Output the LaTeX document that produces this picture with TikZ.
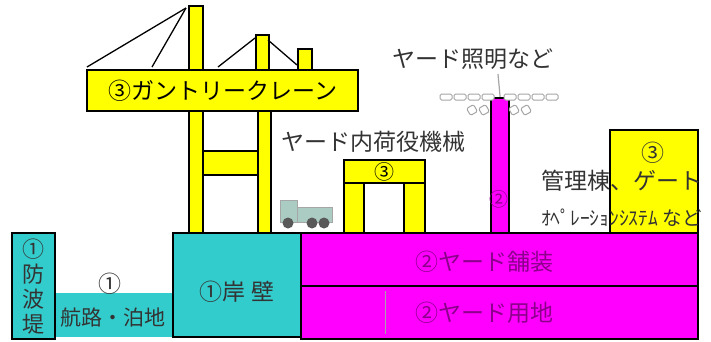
\documentclass[tikz,border=0pt]{standalone}
\usepackage{fontspec}
\setmainfont{Noto Sans CJK JP}
\usetikzlibrary{positioning}

\definecolor{seacyan}{RGB}{51,204,204}
\definecolor{yardpink}{RGB}{255,0,255}
\definecolor{craneyellow}{RGB}{255,255,0}
\definecolor{yardtext}{RGB}{140,0,140}
\definecolor{trucktint}{RGB}{170,204,194}
\definecolor{lampgray}{RGB}{165,165,165}

\begin{document}
\begin{tikzpicture}[x=1pt, y=-1pt, font=\fontsize{23}{26}\selectfont, every node/.style={align=center}]

% styles
\tikzset{
  part/.style={rectangle, draw=black, line width=2.2pt, inner sep=0pt, anchor=north west},
  sea/.style={part, fill=seacyan},
  yard/.style={part, fill=yardpink},
  equip/.style={part, fill=craneyellow},
  caption/.style={inner sep=0pt, text=black!80},
  yardcaption/.style={inner sep=0pt, text=yardtext},
  cable/.style={line width=1.3pt, draw=black},
  truckpart/.style={fill=trucktint, draw=gray!70, line width=0.6pt},
  lamp/.style={draw=lampgray, line width=1pt, fill=white, rounded corners=1.5pt}
}

\useasboundingbox (0,0) rectangle (711,341);

% crane masts behind the boom
\node[equip, minimum width=14, minimum height=64] (mastA) at (188,5) {};
\node[equip, minimum width=13, minimum height=35] (mastB) at (255,34) {};
\node[equip, minimum width=14, minimum height=21] (mastC) at (297,48) {};

% boom with its label
\node[equip, minimum width=271, minimum height=41] (boom) at (86,69) {③ガントリークレーン};

% tie points of the stays
\coordinate (topA) at (186,8);
\coordinate (topB) at (255,38);
\coordinate (topC) at (268,40);
\coordinate (tieA) at (87,67);
\coordinate (tieB) at (152,67);
\coordinate (tieC) at (218,67);
\coordinate (tieD) at (297,65);

\draw[cable] (topA) -- (tieA);
\draw[cable] (topA) -- (tieB);
\draw[cable] (topB) -- (tieC);
\draw[cable] (topC) -- (tieD);

% crane legs and portal beam
\node[equip, minimum width=14, minimum height=122] (legL) at (188,110) {};
\node[equip, minimum width=13, minimum height=122] (legR) at (257,110) {};
\node[equip, minimum width=55, minimum height=24] (portal) at (202,150) {};

% truck on the yard
\filldraw[truckpart] (280,200) rectangle (297,222);
\filldraw[truckpart] (297,207) rectangle (332,222);
\foreach \wx in {288,312,324}
  \fill[black!65] (\wx,223) circle (5.5);

% straddle carrier
\node[equip, minimum width=81, minimum height=23] (carrier) at (343,159) {\fontsize{20}{22}\selectfont ③};
\node[equip, minimum width=20, minimum height=50] (carrierL) at (343,182) {};
\node[equip, minimum width=21, minimum height=50] (carrierR) at (403,182) {};
\node[caption] (carrierlabel) at (373,142) {ヤード内荷役機械};

% yard light tower
\node[yard, minimum width=18, minimum height=135] (pole) at (490,97) {};
\node[yardcaption, font=\fontsize{19}{21}\selectfont] (polelabel) at (499,199) {②};
\coordinate (lamptop) at (498,74);
\draw[lampgray, line width=1.2pt] (lamptop) -- (pole.north);
\foreach \lx in {446,460,474,488,510,524,538,552}
  \draw[lamp] (\lx-6,94) rectangle (\lx+6,100);
\foreach \lx in {472,484,514,526}
  \draw[lamp, rotate around={30:(\lx,110)}] (\lx-4,106) rectangle (\lx+4,114);
\node[caption] (lightlabel) at (473,59) {ヤード照明など};

% administration building
\node[equip, minimum width=88, minimum height=103] (office) at (609,129) {};
\node[caption] (officemark) at (653,153) {③};
\node[caption, anchor=west] (officelabel) at (541,181) {管理棟、ゲート};
\node[caption, anchor=west, font=\fontsize{19.5}{22}\selectfont] (oplabel) at (541,218) {ｵﾍﾟﾚｰｼｮﾝｼｽﾃﾑ など};

% sea side facilities
\node[sea, minimum width=43, minimum height=106] (wave) at (11,232) {};
\node[caption, font=\fontsize{22}{25}\selectfont] (wavelabel) at (wave.center) {①\\防\\波\\堤};
\node[part, draw=none, fill=seacyan, minimum width=117, minimum height=44] (channel) at (55,292) {};
\node[caption, font=\fontsize{21}{23}\selectfont] (channellabel) at (113,317) {航路・泊地};
\node[caption] (channelmark) at (110,284) {①};
\node[sea, minimum width=128, minimum height=104] (quay) at (172,232) {};
\node[caption] (quaylabel) at (237,292) {①岸 壁};

% yard blocks
\node[yard, minimum width=397, minimum height=53] (paving) at (300,232) {};
\node[yard, minimum width=397, minimum height=53] (yardland) at (300,285) {};
\draw[lampgray, line width=0.8pt] (385,291) -- (385,334);
\node[yardcaption] (pavinglabel) at (484,262) {②ヤード舗装};
\node[yardcaption] (landlabel) at (484,313) {②ヤード用地};

\end{tikzpicture}
\end{document}
